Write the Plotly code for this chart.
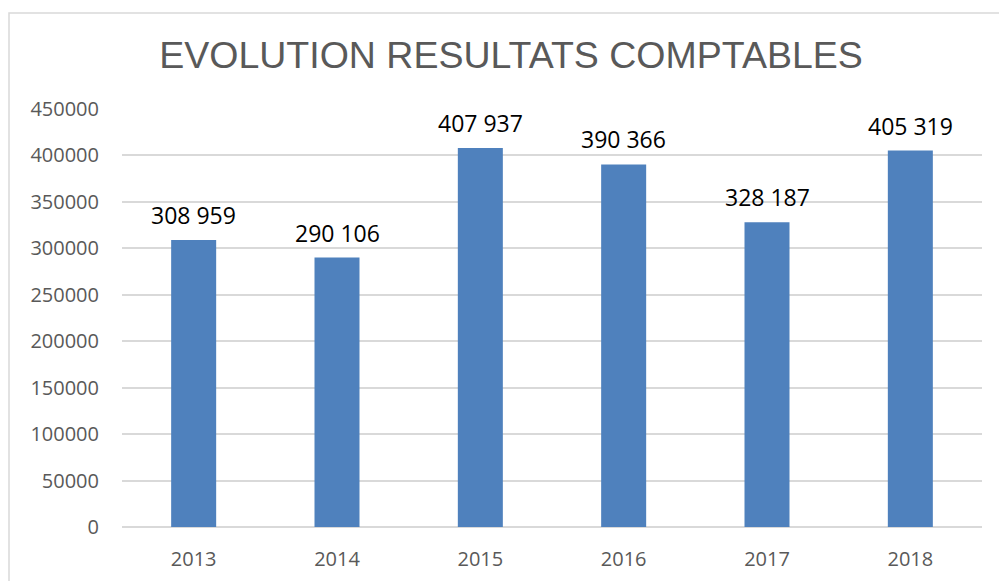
import plotly.graph_objects as go

years = ["2013", "2014", "2015", "2016", "2017", "2018"]
values = [308959, 290106, 407937, 390366, 328187, 405319]
labels = ["308 959", "290 106", "407 937", "390 366", "328 187", "405 319"]
y_ticks = [0, 50000, 100000, 150000, 200000, 250000, 300000, 350000, 400000, 450000]

fig = go.Figure()
fig.add_trace(go.Bar(x=years, y=values, marker=dict(color="#4F81BD", line=dict(width=0)),
                     width=0.314, hoverinfo="x+y"))

for i, (v, t) in enumerate(zip(values, labels)):
    fig.add_annotation(x=i, y=v, text=t, showarrow=False, yanchor="bottom", yshift=7,
                       font=dict(family="Open Sans", size=23, color="#000000"))

W, H = 999, 581
ml, mr, mt, mb = 122, 17, 109, 54
pw, ph = W - ml - mr, H - mt - mb

fig.add_shape(type="rect", xref="paper", yref="paper",
              x0=(9 - ml) / pw, x1=(1004 - ml) / pw,
              y0=-0.3, y1=(H - 13 - mb) / ph,
              line=dict(color="#d9d9d9", width=1.5), fillcolor="rgba(0,0,0,0)", layer="below")

fig.update_layout(
    width=W, height=H,
    margin=dict(l=ml, r=mr, t=mt, b=mb, autoexpand=False),
    paper_bgcolor="white", plot_bgcolor="white",
    showlegend=False,
    title=dict(text="EVOLUTION RESULTATS COMPTABLES", x=511 / W, xanchor="center",
               y=1 - 55 / H, yanchor="middle",
               font=dict(family="Liberation Sans", size=37.5, color="#595959")),
    xaxis=dict(type="category", range=[-0.5, 5.5], showgrid=False, showline=False, zeroline=False,
               tickfont=dict(family="Open Sans", size=20, color="#595959"),
               ticks="", ticklabelstandoff=18, automargin=False),
    yaxis=dict(range=[0, 450000], tickvals=y_ticks, ticktext=[str(v) for v in y_ticks],
               showgrid=True, gridcolor="#d9d9d9", gridwidth=1.5,
               zeroline=True, zerolinecolor="#d9d9d9", zerolinewidth=1.5,
               showline=False, ticks="", ticklabelstandoff=22, automargin=False,
               tickfont=dict(family="Open Sans", size=20, color="#595959")),
)

fig.write_html("out.html", config={"displayModeBar": False},
               post_script="document.body.style.margin='0';")
